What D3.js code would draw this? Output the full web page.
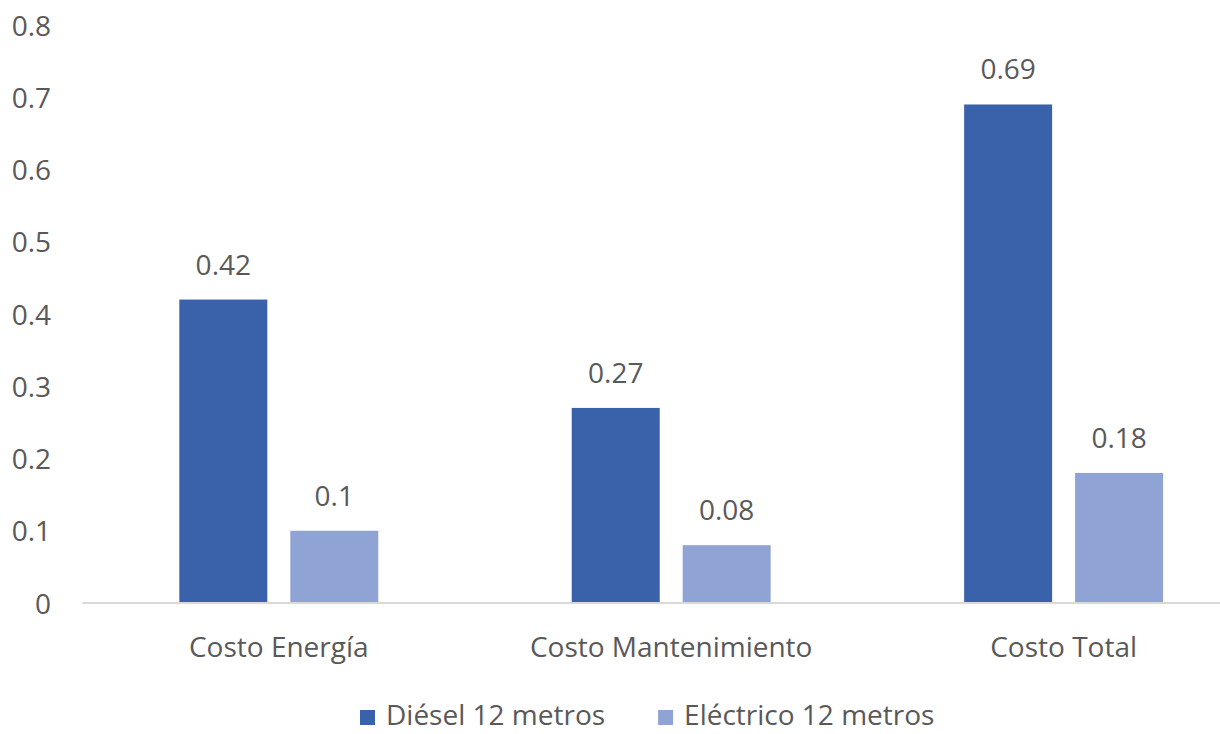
<!DOCTYPE html>
<html>
<head>
<meta charset="utf-8">
<script src="https://cdn.jsdelivr.net/npm/d3@7"></script>
<style>
  html, body { margin: 0; padding: 0; background: #fff; }
  svg { display: block; }
  text { font-family: "Open Sans", sans-serif; fill: #595959; }
</style>
</head>
<body>
<svg id="chart" width="1220" height="734"></svg>
<script>
const categories = ["Costo Energía", "Costo Mantenimiento", "Costo Total"];
const seriesNames = ["Diésel 12 metros", "Eléctrico 12 metros"];
const dieselValues = [0.42, 0.27, 0.69];
const electricValues = [0.1, 0.08, 0.18];
const yTicks = [0, 0.1, 0.2, 0.3, 0.4, 0.5, 0.6, 0.7, 0.8];
const yTickLabels = ["0", "0.1", "0.2", "0.3", "0.4", "0.5", "0.6", "0.7", "0.8"];
const colors = ["#3A62AB", "#8FA4D5"];

const seriesValues = [dieselValues, electricValues];
const rows = categories.map((c, i) => ({
  category: c,
  values: seriesNames.map((s, j) => ({ series: s, idx: j, value: seriesValues[j][i] }))
}));

const svg = d3.select("#chart");
const fontSize = 28;

const y = d3.scaleLinear().domain([0, 0.8]).range([603, 25]);
const x0 = d3.scaleBand().domain(categories).range([82.6, 1259.8])
  .paddingInner(0.493).paddingOuter(0.2465);
const x1 = d3.scaleBand().domain(seriesNames).range([0, x0.bandwidth()]).paddingInner(0.207);
const color = d3.scaleOrdinal().domain(seriesNames).range(colors);

// Y axis labels (no line)
const yAxis = d3.axisLeft(y).tickValues(yTicks).tickFormat((d, i) => yTickLabels[i]).tickSize(0).tickPadding(0);
const yG = svg.append("g").attr("transform", "translate(51,0)").call(yAxis);
yG.select(".domain").remove();
yG.selectAll("text").attr("font-size", fontSize).attr("font-family", null).attr("fill", "#595959").attr("dy", "0.36em");

// Bars
const groups = svg.append("g").selectAll("g").data(rows).join("g")
  .attr("transform", d => `translate(${x0(d.category)},0)`);

groups.selectAll("rect").data(d => d.values).join("rect")
  .attr("x", d => x1(d.series))
  .attr("y", d => y(d.value))
  .attr("width", x1.bandwidth())
  .attr("height", d => y(0) - y(d.value))
  .attr("fill", d => color(d.series));

groups.selectAll("text.val").data(d => d.values).join("text")
  .attr("class", "val")
  .attr("x", d => x1(d.series) + x1.bandwidth() / 2)
  .attr("y", d => y(d.value) - 25)
  .attr("text-anchor", "middle")
  .attr("font-size", fontSize)
  .text(d => String(d.value));

// X axis
const xAxis = d3.axisBottom(x0).tickSize(0).tickPadding(0);
const xG = svg.append("g").attr("transform", `translate(0,${y(0)})`).call(xAxis);
xG.select(".domain").attr("stroke", "#D9D9D9").attr("stroke-width", 2)
  .attr("d", `M${x0.range()[0]},0H${x0.range()[1]}`);
xG.selectAll("text").attr("font-size", fontSize).attr("font-family", null).attr("fill", "#595959")
  .attr("dy", null).attr("y", 54);

// Legend
const legend = svg.append("g");
const legendY = 715;
let lx = 360;
seriesNames.forEach((s, i) => {
  const g = legend.append("g");
  g.append("rect").attr("x", lx).attr("y", legendY - 5).attr("width", 15).attr("height", 15).attr("fill", color(s));
  const t = g.append("text").attr("x", lx + 26).attr("y", legendY).attr("dy", "0.36em")
    .attr("font-size", fontSize).text(s);
  const w = t.node().getComputedTextLength();
  lx = lx + 26 + w + 53;
});
</script>
</body>
</html>
